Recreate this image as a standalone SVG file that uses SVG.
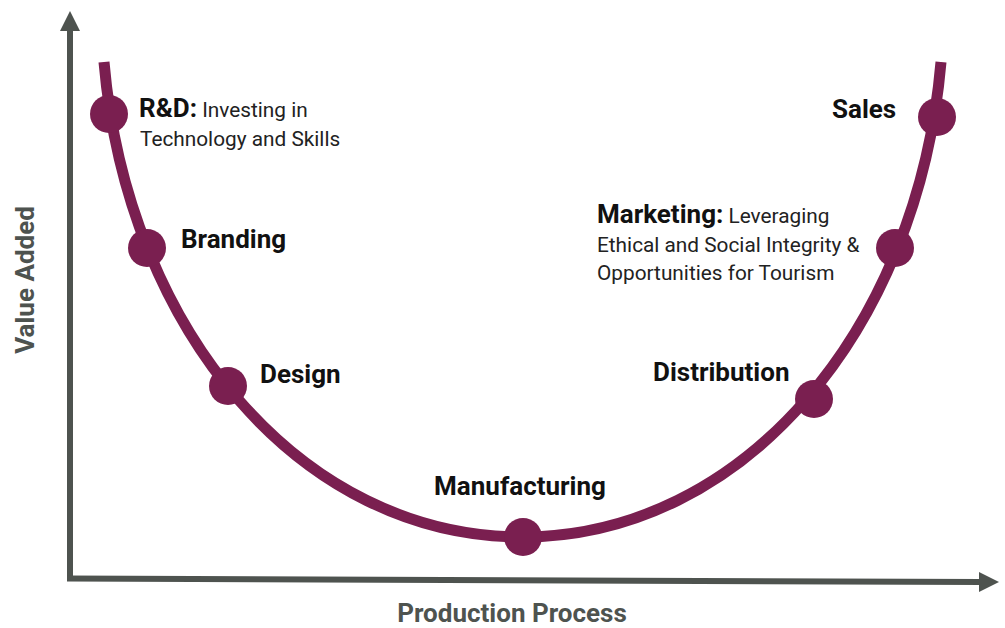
<svg xmlns="http://www.w3.org/2000/svg" width="1005" height="628" viewBox="0 0 1005 628">
<style>
.axis{stroke:#4E534F;stroke-width:6;fill:none}
.head{fill:#4E534F}
.curve{stroke:#7A1F50;stroke-width:11;fill:none}
.dot{fill:#7A1F50}
.lbl{font-family:Roboto,"Liberation Sans",sans-serif;font-weight:700;font-size:26px;fill:#111}
.reg{font-family:Roboto,"Liberation Sans",sans-serif;font-weight:400;font-size:20.8px;fill:#222}
.ax{font-family:Roboto,"Liberation Sans",sans-serif;font-weight:700;font-size:26px;fill:#4E534F}
</style>
<rect width="1005" height="628" fill="#fff"/>
<g id="connectors">
<line class="axis" x1="70" y1="581" x2="70" y2="28"/>
<polygon class="head" points="60,31 70,11 80,31"/>
<line class="axis" x1="67" y1="578.5" x2="982" y2="582"/>
<polygon class="head" points="979,572 999,582 979,592"/>
<path class="curve" d="M104,62 C127,330 301,537 522,537 C743,537 918,330 941,62"/>
</g>
<g id="axis-y"><text class="ax" text-anchor="middle" transform="translate(34,280) rotate(-90)">Value Added</text></g>
<g id="axis-x"><text class="ax" x="512" y="622" text-anchor="middle">Production Process</text></g>
<g id="rd">
<circle class="dot" cx="109" cy="114" r="19"/>
<text x="139" y="117"><tspan class="lbl">R&amp;D:</tspan><tspan class="reg"> Investing in</tspan></text>
<text class="reg" x="140" y="146">Technology and Skills</text>
</g>
<g id="branding">
<circle class="dot" cx="147" cy="248" r="19"/>
<text class="lbl" x="181" y="248">Branding</text>
</g>
<g id="design">
<circle class="dot" cx="228" cy="386" r="19"/>
<text class="lbl" x="260" y="383">Design</text>
</g>
<g id="manufacturing">
<circle class="dot" cx="523" cy="537" r="19"/>
<text class="lbl" x="520" y="495" text-anchor="middle">Manufacturing</text>
</g>
<g id="distribution">
<circle class="dot" cx="814" cy="399" r="19"/>
<text class="lbl" x="653" y="381">Distribution</text>
</g>
<g id="marketing">
<circle class="dot" cx="895" cy="248" r="19"/>
<text x="597" y="223"><tspan class="lbl">Marketing:</tspan><tspan class="reg"> Leveraging</tspan></text>
<text class="reg" x="597" y="252">Ethical and Social Integrity &amp;</text>
<text class="reg" x="597" y="280">Opportunities for Tourism</text>
</g>
<g id="sales">
<circle class="dot" cx="937" cy="117" r="19"/>
<text class="lbl" x="832" y="118">Sales</text>
</g>
</svg>
